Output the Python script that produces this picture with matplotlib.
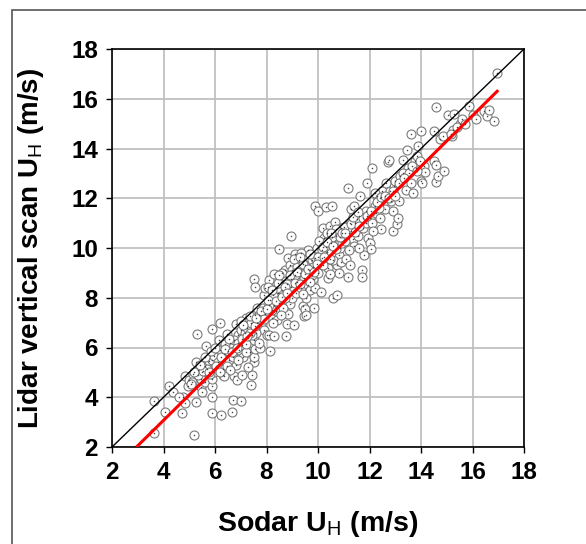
"""Lidar vertical scan vs sodar horizontal wind speed scatter."""

import matplotlib
matplotlib.use("Agg")
import matplotlib.pyplot as plt
from matplotlib.patches import Rectangle

plt.rcParams["font.family"] = ["Liberation Sans", "DejaVu Sans"]
plt.rcParams["mathtext.fontset"] = "custom"
plt.rcParams["mathtext.rm"] = "Liberation Sans"

sodar_u = [
    3.62, 3.65, 4.05, 4.2, 4.35, 4.7, 4.75, 4.85, 4.85, 4.95, 5.0, 4.6,
    5.2, 5.25, 5.3, 5.25, 5.15, 5.35, 5.45, 5.5, 5.5, 5.6, 5.45, 5.6, 5.75, 5.65,
    5.9, 5.9, 5.9, 5.9, 5.95, 5.9, 5.95, 5.9, 5.1, 5.35, 5.7, 5.8, 5.55, 5.4, 5.2, 5.05,
    6.25, 6.2, 6.3, 6.3, 6.35, 6.45, 6.5, 6.6, 6.65, 6.7, 6.75, 6.8, 6.8, 6.85, 6.9,
    6.95, 7.0, 7.05, 7.05, 7.1, 6.1, 6.2, 6.15, 6.4, 6.55, 6.7, 6.75, 6.9, 6.05, 6.45,
    6.6, 6.9, 7.0, 6.35,
    7.15, 7.2, 7.3, 7.35, 7.4, 7.45, 7.5, 7.5, 7.55, 7.5, 7.55, 7.5, 7.55, 7.65, 7.75,
    7.8, 7.9, 7.95, 8.0, 7.9, 7.95, 7.25, 7.4, 7.6, 7.7, 7.85, 7.2, 7.3, 7.45, 7.65,
    7.0, 7.1, 7.35,
    8.1, 8.05, 8.15, 8.1, 8.2, 8.3, 8.3, 8.4, 8.5, 8.45, 8.5, 8.55, 8.6, 8.7, 8.75, 8.8,
    8.85, 8.9, 8.85, 8.9, 8.95, 8.95, 9.0, 9.05, 8.15, 8.25, 8.35, 8.65, 8.7, 8.4, 8.75,
    8.6, 8.95, 9.0, 8.2, 8.55, 8.8, 8.3, 8.1,
    9.1, 9.15, 9.2, 9.3, 9.35, 9.4, 9.45, 9.5, 9.55, 9.5, 9.6, 9.6, 9.7, 9.75, 9.8, 9.85,
    9.9, 9.95, 9.9, 10.0, 10.0, 9.65, 9.25, 9.35, 9.8, 9.45, 9.2, 9.55, 9.7, 9.9, 9.1,
    9.4, 9.75, 9.05,
    10.1, 10.15, 10.2, 10.25, 10.3, 10.35, 10.4, 10.4, 10.45, 10.5, 10.55, 10.6, 10.65,
    10.7, 10.75, 10.75, 10.8, 10.8, 10.85, 10.9, 10.95, 10.3, 10.6, 10.1, 10.2, 10.5,
    10.7, 10.35, 10.9, 10.15, 10.55, 10.0, 10.45,
    11.1, 11.15, 11.15, 11.2, 11.25, 11.3, 11.35, 11.4, 11.45, 11.5, 11.55, 11.6, 11.65,
    11.7, 11.7, 11.8, 11.85, 11.9, 11.95, 12.0, 12.05, 12.0, 11.05, 11.25, 11.4, 11.75,
    11.3, 11.6, 11.85, 11.0, 11.5, 11.2,
    12.1, 12.1, 12.2, 12.25, 12.3, 12.4, 12.45, 12.5, 12.55, 12.6, 12.7, 12.75, 12.8,
    12.85, 12.9, 12.9, 12.95, 13.05, 13.1, 13.15, 12.2, 12.4, 12.65, 12.35, 13.0, 12.15,
    13.2, 13.3, 13.4, 13.45, 13.5, 13.6, 13.6, 13.7, 13.75, 13.85, 13.9, 14.0, 14.0,
    14.05, 14.1, 14.15, 13.3, 13.55, 13.8, 13.95,
    14.5, 14.5, 14.6, 14.6, 14.6, 14.65, 14.75, 14.85, 14.9, 15.05, 15.2, 15.3, 15.25,
    15.5, 15.6, 15.7, 15.85, 16.0, 16.15, 16.45, 16.55, 16.65, 16.85, 16.95, 15.4, 15.15,
    # denser core
    5.6, 5.85, 6.0, 6.25, 6.4, 6.55, 6.65, 6.85, 6.2, 5.75,
    7.05, 7.2, 7.35, 7.55, 7.7, 7.8, 7.9, 8.0, 7.6, 7.25,
    8.05, 8.2, 8.35, 8.45, 8.6, 8.7, 8.8, 8.9, 8.5, 8.25,
    9.1, 9.2, 9.3, 9.4, 9.5, 9.6, 9.7, 9.85, 9.95, 9.3,
    10.05, 10.2, 10.35, 10.45, 10.6, 10.7, 10.85, 10.95, 10.25, 10.5,
    11.05, 11.3, 11.45, 11.6, 11.75, 11.9, 11.35, 11.55,
    12.05, 12.3, 12.45, 12.6, 12.75, 12.9, 13.0,
    13.15, 13.35, 13.65, 13.85,
]
lidar_u = [
    2.58, 3.85, 3.4, 4.45, 4.2, 3.35, 4.0, 3.75, 4.85, 4.45, 4.7, 4.0,
    2.48, 3.8, 6.55, 5.4, 4.95, 5.1, 4.4, 4.2, 5.0, 4.6, 4.75, 5.25, 5.45, 6.05,
    3.35, 4.0, 4.45, 4.75, 5.0, 5.5, 5.65, 6.75, 4.6, 4.9, 5.15, 4.95, 5.05, 5.3, 5.0, 4.55,
    3.3, 7.0, 4.9, 5.15, 5.75, 6.55, 5.85, 6.2, 3.4, 3.9, 4.85, 5.3, 6.95, 4.7, 6.5,
    5.9, 3.85, 4.9, 6.1, 5.6, 5.4, 5.9, 6.3, 6.15, 5.5, 5.6, 6.3, 6.2, 5.25, 5.25,
    5.1, 5.5, 6.7, 4.85,
    6.6, 7.2, 6.4, 5.8, 4.5, 4.9, 5.4, 5.6, 5.95, 6.3, 7.3, 8.75, 8.45, 7.6, 6.0,
    6.9, 6.7, 7.35, 6.5, 8.1, 8.4, 6.8, 7.0, 6.6, 6.2, 7.6, 5.8, 5.2, 6.5, 7.0,
    7.05, 6.9, 7.25,
    8.7, 8.45, 5.85, 6.5, 7.2, 7.7, 6.45, 7.1, 7.8, 8.2, 9.95, 8.65, 8.3, 9.1, 6.45, 6.95,
    7.35, 7.75, 9.6, 9.3, 10.5, 8.45, 8.0, 6.9, 7.9, 8.1, 7.45, 7.6, 8.0, 8.4, 8.85,
    9.0, 8.75, 9.1, 7.5, 7.3, 8.55, 8.95, 7.7,
    9.75, 8.2, 8.65, 9.0, 8.4, 7.65, 7.25, 7.55, 7.3, 9.3, 9.9, 8.5, 8.3, 9.5, 8.75, 7.6,
    9.6, 10.0, 11.7, 11.5, 9.0, 9.1, 9.5, 9.8, 9.25, 8.8, 9.25, 8.0, 9.75, 8.4, 8.9,
    8.15, 8.9, 9.55,
    8.25, 9.6, 10.8, 10.4, 11.65, 9.85, 9.2, 8.8, 10.9, 10.2, 11.7, 8.0, 11.05,
    10.5, 8.1, 9.3, 9.0, 9.7, 10.0, 10.8, 10.2, 10.05, 9.5, 10.2, 9.3, 9.8,
    9.95, 10.6, 9.45, 9.9, 10.45, 9.65, 8.95,
    9.55, 8.85, 12.4, 10.6, 9.3, 11.55, 10.35, 11.7, 11.0, 10.8, 10.5, 11.3, 12.1,
    9.1, 8.85, 9.7, 11.5, 12.6, 10.4, 10.2, 9.95, 11.2, 10.3, 11.0, 10.1, 10.8,
    10.7, 10.0, 11.0, 10.85, 11.15, 9.9,
    13.2, 11.0, 11.7, 11.4, 12.1, 11.2, 10.75, 12.3, 11.8, 11.55, 13.45, 13.55, 12.3,
    11.9, 10.7, 11.5, 12.5, 10.95, 11.2, 11.9, 12.2, 12.0, 12.6, 11.6, 12.7, 10.7,
    12.9, 13.55, 12.35, 13.95, 13.2, 14.6, 12.6, 12.2, 13.5, 13.7, 14.1, 14.7, 12.7,
    12.6, 13.3, 13.05, 13.0, 13.0, 13.2, 13.5,
    14.7, 13.5, 15.65, 13.35, 12.65, 12.9, 14.4, 14.5, 13.1, 15.35, 14.5, 15.4, 14.75,
    15.0, 15.2, 15.0, 15.7, 15.35, 15.2, 15.5, 15.3, 15.55, 15.1, 17.05, 14.85, 14.6,
    # denser core
    5.6, 5.85, 6.0, 5.6, 5.95, 6.35, 5.8, 6.0, 5.0, 5.0,
    6.35, 6.15, 6.6, 6.85, 7.3, 7.45, 7.15, 7.55, 7.2, 6.45,
    7.9, 8.3, 7.85, 8.6, 8.05, 8.45, 8.2, 8.9, 8.9, 7.0,
    8.6, 9.05, 8.55, 9.35, 8.95, 9.15, 8.65, 9.05, 9.35, 9.65,
    10.3, 10.05, 10.25, 9.55, 10.1, 10.75, 10.45, 10.6, 9.65, 10.6,
    10.6, 10.95, 10.65, 10.9, 11.2, 11.3, 11.25, 11.45,
    11.5, 11.85, 12.05, 12.1, 12.0, 12.3, 12.1,
    12.6, 12.8, 13.3, 13.1,
]

# regression line
fit_slope = 1.021
fit_intercept = -1.013
fit_x = [2.95, 17.0]
one_to_one = [2, 18]

ticks = [2, 4, 6, 8, 10, 12, 14, 16, 18]

fig = plt.figure(figsize=(5.86, 5.44), dpi=100)
ax = fig.add_axes([112 / 586, 1 - 447 / 544, 412 / 586, 398 / 544])

ax.grid(True, color="#c0c0c0", linewidth=1.3, zorder=0)
ax.set_axisbelow(True)

ax.scatter(sodar_u, lidar_u, s=42, facecolors="white", edgecolors="#7a7a7a",
           linewidths=0.8, zorder=3)
ax.scatter(sodar_u, lidar_u, s=1.2, color="#444444", linewidths=0, zorder=4)

ax.plot(one_to_one, one_to_one, color="black", linewidth=1.0, zorder=5)
ax.plot(fit_x, [fit_slope * v + fit_intercept for v in fit_x],
        color="#ff0000", linewidth=2.2, zorder=6, solid_capstyle="butt")

ax.set_xlim(2, 18)
ax.set_ylim(2, 18)
ax.set_xticks(ticks)
ax.set_yticks(ticks)
ax.tick_params(direction="out", length=4, width=1.0, labelsize=17.5, pad=6)
for lab in ax.get_xticklabels() + ax.get_yticklabels():
    lab.set_fontweight("bold")
for sp in ax.spines.values():
    sp.set_color("black")
    sp.set_linewidth(1.2)

ax.set_xlabel(r"Sodar U$_\mathrm{H}$ (m/s)", fontsize=20.5, fontweight="bold", labelpad=18)
ax.set_ylabel(r"Lidar vertical scan U$_\mathrm{H}$ (m/s)", fontsize=20,
              fontweight="bold", labelpad=18)

# outer frame of the original figure (left and top edges visible)
fig.patches.append(Rectangle((11.5 / 586, -0.1), 2.0, 1.1 - 9.5 / 544,
                             transform=fig.transFigure, fill=False,
                             edgecolor="#555555", linewidth=1.2))

fig.savefig("out.png", dpi=100, facecolor="white")
